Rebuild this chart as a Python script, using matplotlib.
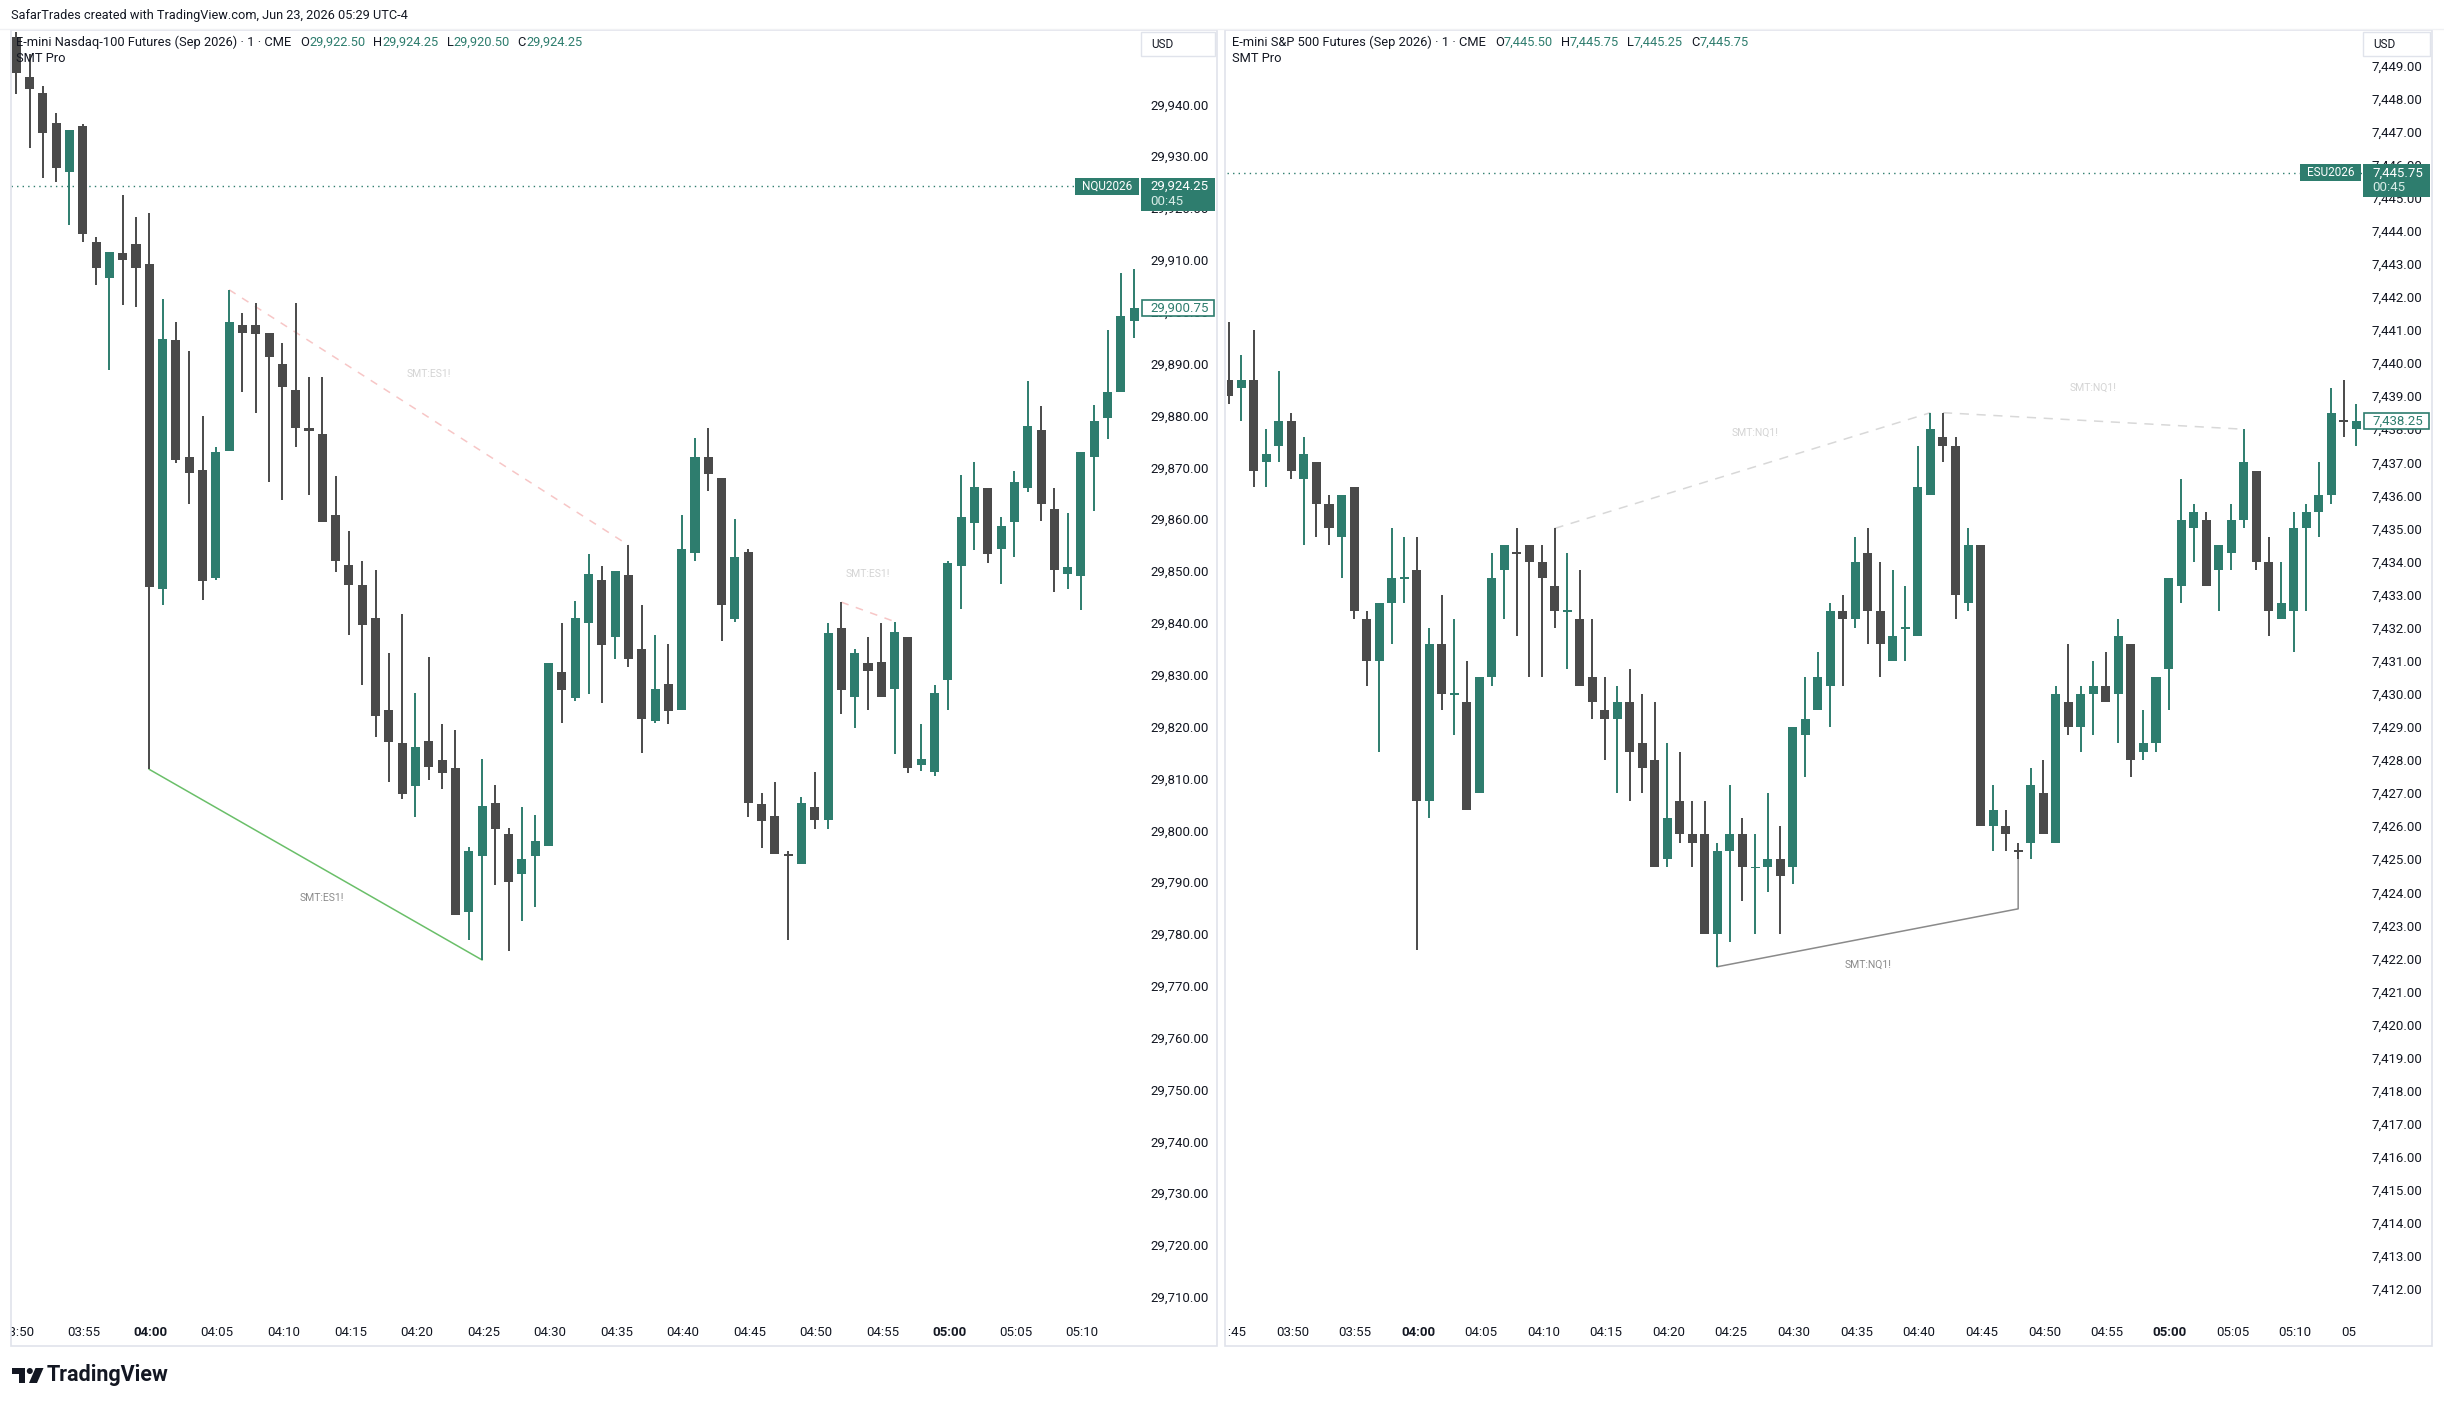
import matplotlib
matplotlib.use("Agg")
import matplotlib.pyplot as plt
import numpy as np
from matplotlib.patches import Rectangle, Polygon, Circle

plt.rcParams["font.family"] = ["Roboto", "DejaVu Sans"]

W, H = 2444, 1406
UP = "#2e7d6e"
DOWN = "#4a4a4a"
INK = "#131722"
FRAME = "#e0e3eb"

# ---- NQ (left pane), minutes from 04:00 ----
nq_start = -10
nq_open = [29953.0, 29945.25, 29942.25, 29936.5, 29927.0, 29935.75, 29913.5, 29906.5, 29911.25, 29913.0,
           29909.25, 29846.5, 29894.5, 29872.0, 29869.5, 29848.75, 29873.25, 29897.5, 29897.5, 29896.0,
           29890.0, 29885.0, 29877.5, 29876.5, 29860.75, 29851.25, 29847.25, 29841.0, 29823.25, 29816.75,
           29808.5, 29817.25, 29813.5, 29812.0, 29784.25, 29795.0, 29805.25, 29799.25, 29791.5, 29795.0,
           29797.0, 29830.5, 29825.5, 29840.0, 29848.25, 29837.25, 29849.25, 29835.0, 29821.0, 29828.25,
           29823.25, 29853.5, 29872.0, 29868.0, 29840.75, 29853.75, 29805.0, 29802.75, 29795.5, 29793.5,
           29804.5, 29802.0, 29839.0, 29825.75, 29832.25, 29832.5, 29827.25, 29837.25, 29812.5, 29811.25,
           29829.0, 29851.0, 29859.25, 29866.0, 29854.25, 29859.5, 29866.0, 29877.25, 29862.0, 29849.5,
           29849.0, 29872.0, 29879.5, 29884.5, 29898.25]
nq_high = [29954.0, 29949.75, 29943.5, 29938.25, 29935.0, 29936.25, 29914.5, 29911.5, 29922.5, 29918.25,
           29919.0, 29902.5, 29898.0, 29892.5, 29880.0, 29874.0, 29904.25, 29899.75, 29901.75, 29896.0,
           29894.0, 29901.75, 29887.5, 29887.5, 29868.25, 29857.75, 29852.0, 29850.25, 29834.25, 29841.75,
           29826.5, 29833.5, 29820.5, 29819.25, 29796.75, 29813.75, 29808.75, 29800.5, 29804.5, 29803.0,
           29832.25, 29840.0, 29844.25, 29853.25, 29851.0, 29850.0, 29855.0, 29843.5, 29837.75, 29836.0,
           29860.75, 29875.75, 29877.5, 29868.0, 29860.0, 29854.25, 29807.25, 29809.25, 29796.0, 29806.5,
           29811.25, 29840.0, 29844.0, 29835.0, 29837.25, 29840.0, 29840.25, 29837.25, 29820.5, 29828.0,
           29852.0, 29868.5, 29871.0, 29866.0, 29860.5, 29869.25, 29886.75, 29881.75, 29866.0, 29861.25,
           29873.0, 29882.0, 29896.5, 29907.5, 29908.25]
nq_low = [29942.0, 29931.5, 29925.75, 29925.0, 29916.75, 29913.5, 29905.25, 29888.75, 29901.25, 29901.0,
          29811.75, 29843.5, 29870.75, 29863.0, 29844.5, 29848.25, 29873.25, 29884.5, 29880.5, 29867.25,
          29863.75, 29874.0, 29864.75, 29859.5, 29849.75, 29837.75, 29828.0, 29818.0, 29809.25, 29806.0,
          29802.5, 29809.75, 29808.0, 29783.75, 29778.75, 29775.0, 29789.5, 29776.75, 29782.5, 29785.25,
          29797.0, 29820.75, 29825.0, 29826.25, 29824.5, 29833.0, 29831.5, 29815.0, 29820.75, 29820.5,
          29823.25, 29852.0, 29865.5, 29836.5, 29840.25, 29802.5, 29796.5, 29795.5, 29778.75, 29793.5,
          29800.25, 29800.25, 29822.5, 29819.75, 29823.25, 29825.75, 29814.75, 29811.0, 29811.5, 29810.5,
          29823.25, 29842.75, 29854.0, 29851.5, 29847.5, 29852.75, 29865.25, 29859.75, 29846.0, 29846.5,
          29842.5, 29861.5, 29875.5, 29884.5, 29895.0]
nq_close = [29946.0, 29943.0, 29934.5, 29927.75, 29935.0, 29915.0, 29908.5, 29911.5, 29910.0, 29908.5,
            29847.0, 29894.75, 29871.5, 29869.0, 29848.0, 29873.0, 29898.0, 29896.0, 29895.75, 29891.25,
            29885.5, 29877.5, 29877.0, 29859.5, 29852.0, 29847.25, 29839.5, 29822.0, 29817.0, 29807.0,
            29816.0, 29812.25, 29811.0, 29783.75, 29796.0, 29804.75, 29800.25, 29790.0, 29794.5, 29798.0,
            29832.25, 29827.0, 29841.0, 29849.5, 29835.75, 29850.0, 29833.0, 29821.5, 29827.25, 29823.0,
            29854.25, 29872.0, 29868.75, 29843.5, 29852.75, 29805.25, 29801.75, 29795.5, 29795.0, 29805.25,
            29802.0, 29838.0, 29827.0, 29834.25, 29830.75, 29825.75, 29838.25, 29812.0, 29813.75, 29826.5,
            29851.5, 29860.5, 29866.25, 29853.25, 29858.75, 29867.25, 29878.0, 29863.0, 29850.25, 29850.75,
            29873.0, 29879.0, 29884.5, 29899.25, 29900.75]

# ---- ES (right pane), minutes from 04:00 ----
es_start = -15
es_open = [7439.5, 7439.25, 7439.5, 7437.0, 7437.5, 7438.25, 7436.5, 7437.0, 7435.75, 7434.75,
           7436.25, 7432.25, 7431.0, 7432.75, 7433.5, 7433.75, 7426.75, 7431.5, 7430.0, 7429.75,
           7427.0, 7430.5, 7433.75, 7434.25, 7434.5, 7434.0, 7433.25, 7432.5, 7432.25, 7430.5,
           7429.5, 7429.25, 7429.75, 7428.5, 7428.0, 7425.0, 7426.75, 7425.75, 7425.75, 7422.75,
           7425.25, 7425.75, 7424.75, 7424.75, 7425.0, 7424.75, 7428.75, 7429.5, 7430.25, 7432.5,
           7432.25, 7434.25, 7432.5, 7431.0, 7432.0, 7431.75, 7436.0, 7437.75, 7437.5, 7432.75,
           7434.5, 7426.0, 7426.0, 7425.25, 7425.5, 7427.0, 7425.5, 7429.75, 7429.0, 7430.0,
           7430.25, 7430.0, 7431.5, 7428.25, 7428.5, 7430.75, 7433.25, 7435.0, 7435.25, 7433.75,
           7434.25, 7435.25, 7436.75, 7434.0, 7432.25, 7432.5, 7435.0, 7435.5, 7436.0, 7438.25,
           7438.0]
es_high = [7441.25, 7440.25, 7441.0, 7438.0, 7439.75, 7438.5, 7437.75, 7437.0, 7436.0, 7436.0,
           7436.25, 7432.5, 7432.75, 7435.0, 7434.75, 7434.75, 7432.0, 7433.0, 7432.25, 7431.0,
           7430.5, 7434.25, 7434.5, 7435.0, 7434.5, 7434.5, 7435.0, 7434.25, 7433.75, 7432.25,
           7430.5, 7430.25, 7430.75, 7430.0, 7429.75, 7428.5, 7428.25, 7426.75, 7426.75, 7425.5,
           7427.25, 7426.25, 7425.75, 7427.0, 7426.0, 7429.0, 7430.5, 7431.25, 7432.75, 7433.0,
           7434.75, 7435.0, 7434.0, 7433.75, 7433.25, 7437.5, 7438.5, 7438.5, 7437.75, 7435.0,
           7434.5, 7427.25, 7426.5, 7425.5, 7427.75, 7428.0, 7430.25, 7431.5, 7430.25, 7431.0,
           7431.25, 7432.25, 7431.5, 7429.5, 7430.5, 7433.5, 7436.5, 7435.75, 7435.5, 7434.5,
           7435.75, 7438.0, 7436.75, 7434.75, 7434.0, 7435.5, 7435.75, 7437.0, 7439.25, 7439.5,
           7438.75]
es_low = [7438.75, 7438.25, 7436.25, 7436.25, 7437.0, 7436.5, 7434.5, 7434.75, 7434.5, 7433.5,
          7432.25, 7430.25, 7428.25, 7431.5, 7432.75, 7422.25, 7426.25, 7429.5, 7428.75, 7426.5,
          7427.0, 7430.25, 7432.25, 7431.75, 7430.5, 7430.5, 7432.0, 7430.75, 7430.25, 7429.25,
          7428.0, 7427.0, 7426.75, 7427.0, 7424.75, 7424.75, 7425.5, 7424.75, 7422.75, 7421.75,
          7422.5, 7423.75, 7422.75, 7424.0, 7422.75, 7424.25, 7427.5, 7429.5, 7429.0, 7430.25,
          7432.0, 7431.5, 7430.5, 7431.0, 7431.0, 7431.75, 7436.0, 7437.0, 7432.25, 7432.5,
          7426.0, 7425.25, 7425.25, 7425.0, 7425.0, 7425.75, 7425.5, 7428.75, 7428.25, 7428.75,
          7429.75, 7428.5, 7427.5, 7428.0, 7428.25, 7429.5, 7432.75, 7434.0, 7433.25, 7432.5,
          7433.75, 7435.0, 7433.75, 7431.75, 7432.25, 7431.25, 7432.5, 7434.75, 7435.75, 7437.75,
          7437.5]
es_close = [7439.0, 7439.5, 7436.75, 7437.25, 7438.25, 7436.75, 7437.25, 7435.75, 7435.0, 7436.0,
            7432.5, 7431.0, 7432.75, 7433.5, 7433.5, 7426.75, 7431.5, 7430.0, 7430.0, 7426.5,
            7430.5, 7433.5, 7434.5, 7434.25, 7434.0, 7433.5, 7432.5, 7432.5, 7430.25, 7429.75,
            7429.25, 7429.75, 7428.25, 7427.75, 7424.75, 7426.25, 7425.75, 7425.5, 7422.75, 7425.25,
            7425.75, 7424.75, 7424.75, 7425.0, 7424.5, 7429.0, 7429.25, 7430.5, 7432.5, 7432.25,
            7434.0, 7432.5, 7431.5, 7431.75, 7432.0, 7436.25, 7438.0, 7437.5, 7433.0, 7434.5,
            7426.0, 7426.5, 7425.75, 7425.25, 7427.25, 7425.75, 7430.0, 7429.0, 7430.0, 7430.25,
            7429.75, 7431.75, 7428.0, 7428.5, 7430.5, 7433.5, 7435.25, 7435.5, 7433.25, 7434.5,
            7435.25, 7437.0, 7434.0, 7432.5, 7432.75, 7435.0, 7435.5, 7436.0, 7438.5, 7438.25,
            7438.25]

# ---- SMT Pro drawings (minute, price) ----
nq_bear1_t, nq_bear1_p = [6, 36], [29904.25, 29855.0]
nq_bear2_t, nq_bear2_p = [52, 56], [29844.0, 29840.25]
nq_bull_t, nq_bull_p = [0, 25], [29811.75, 29775.0]
nq_labels = [("SMT:ES1!", 21, 29888.0, "faint"), ("SMT:ES1!", 54, 29849.5, "faint"),
             ("SMT:ES1!", 13, 29787.0, "strong")]
es_bear1_t, es_bear1_p = [11, 41], [7435.0, 7438.5]
es_bear2_t, es_bear2_p = [42, 66], [7438.5, 7438.0]
es_bull_t, es_bull_p = [24, 48, 48], [7421.75, 7423.5, 7425.25]
es_labels = [("SMT:NQ1!", 27, 7437.9, "faint"), ("SMT:NQ1!", 54, 7439.25, "faint"),
             ("SMT:NQ1!", 36, 7421.8, "strong")]

nq_ticks = list(range(-10, 71, 5))
nq_tick_labels = ["03:50", "03:55", "04:00", "04:05", "04:10", "04:15", "04:20", "04:25", "04:30",
                  "04:35", "04:40", "04:45", "04:50", "04:55", "05:00", "05:05", "05:10"]
es_ticks = list(range(-15, 76, 5))
es_tick_labels = ["03:45", "03:50", "03:55", "04:00", "04:05", "04:10", "04:15", "04:20", "04:25",
                  "04:30", "04:35", "04:40", "04:45", "04:50", "04:55", "05:00", "05:05", "05:10", "05:15"]
bold_labels = ["04:00", "05:00"]

nq_last, nq_mark = 29924.25, 29900.75
es_last, es_mark = 7445.75, 7438.25


def rect(x0, y0, x1, y1):
    return [x0 / W, 1 - y1 / H, (x1 - x0) / W, (y1 - y0) / H]


def candles(ax, start, o, h, l, c, width, min_h):
    o, h, l, c = map(np.array, (o, h, l, c))
    t = start + np.arange(len(o))
    prev = np.concatenate([[o[0]], c[:-1]])
    up = (c > o) | ((c == o) & (c >= prev))
    cols = np.where(up, UP, DOWN)
    ax.vlines(t, l, h, colors=cols, lw=1.4, zorder=2)
    body = np.abs(c - o)
    hgt = np.maximum(body, min_h)
    bot = np.minimum(o, c) - (hgt - body) / 2
    ax.bar(t, hgt, bottom=bot, width=width, color=cols, lw=0, zorder=3)


fig = plt.figure(figsize=(W / 100, H / 100), dpi=100)
fig.patch.set_facecolor("white")

ax_nq = fig.add_axes(rect(11, 30, 1139, 1315))
ax_es = fig.add_axes(rect(1227, 30, 2362, 1315))
ax_nq.set_xlim(-10.39, 74.36)
ax_nq.set_ylim(29706.52, 29954.35)
ax_es.set_xlim(-15.14, 75.44)
ax_es.set_ylim(7411.22, 7450.07)

candles(ax_nq, nq_start, nq_open, nq_high, nq_low, nq_close, 0.68, 0.3)
candles(ax_es, es_start, es_open, es_high, es_low, es_close, 0.72, 0.05)

# SMT lines
ax_nq.plot(nq_bear1_t, nq_bear1_p, color="#f7c6c6", lw=1.1, ls=(0, (5, 5)), zorder=1)
ax_nq.plot(nq_bear2_t, nq_bear2_p, color="#f7c6c6", lw=1.1, ls=(0, (5, 5)), zorder=1)
ax_nq.plot(nq_bull_t, nq_bull_p, color="#6abf69", lw=1.1, zorder=1)
ax_es.plot(es_bear1_t, es_bear1_p, color="#d8d8d8", lw=1.1, ls=(0, (6, 5)), zorder=1)
ax_es.plot(es_bear2_t, es_bear2_p, color="#d8d8d8", lw=1.1, ls=(0, (6, 5)), zorder=1)
ax_es.plot(es_bull_t, es_bull_p, color="#8a8a8a", lw=1.1, zorder=1)
for ax, labels in ((ax_nq, nq_labels), (ax_es, es_labels)):
    for txt, t, p, kind in labels:
        ax.text(t, p, txt, ha="center", va="center", fontsize=7.5,
                color="#d4d4d4" if kind == "faint" else "#8a8a8a", zorder=1)

# current price dotted lines
ax_nq.axhline(nq_last, color=UP, lw=1, ls=(0, (1, 3)), zorder=1)
ax_es.axhline(es_last, color=UP, lw=1, ls=(0, (1, 3)), zorder=1)

for ax, ticks, pad in ((ax_nq, np.arange(29710, 29941, 10), 7.9), (ax_es, np.arange(7412, 7450, 1), 6.5)):
    ax.set_xticks([])
    ax.yaxis.tick_right()
    ax.set_yticks(ticks)
    ax.set_yticklabels([f"{v:,.2f}" for v in ticks])
    ax.tick_params(axis="y", length=0, pad=pad, labelsize=9.5, labelcolor=INK)
    for s in ax.spines.values():
        s.set_visible(False)
    ax.patch.set_alpha(0)

# time axis strips (clipped at pane edges)
for x0, x1, ax, ticks, labels in ((11, 1139, ax_nq, nq_ticks, nq_tick_labels),
                                  (1227, 2356, ax_es, es_ticks, es_tick_labels)):
    strip = fig.add_axes(rect(x0, 1318, x1, 1346))
    lo, hi = ax.get_xlim()
    strip.set_xlim(lo, lo + (hi - lo) * (x1 - x0) / (ax.get_position().width * W))
    strip.set_ylim(0, 1)
    strip.axis("off")
    for t, lab in zip(ticks, labels):
        strip.text(t + 0.1, 0.5, lab, ha="center", va="center", fontsize=9.5, color=INK,
                   fontweight="bold" if lab in bold_labels else "normal", clip_on=True)

# overlay in pixel coordinates
ov = fig.add_axes([0, 0, 1, 1])
ov.set_xlim(0, W)
ov.set_ylim(H, 0)
ov.axis("off")
ov.patch.set_alpha(0)
ov.set_zorder(10)


def ypix(ax, p):
    return H - ax.transData.transform((0, p))[1]


# pane frames
ov.add_patch(Rectangle((10.5, 30), 1206, 1316, fill=False, ec=FRAME, lw=1.2))
ov.add_patch(Rectangle((1225, 30), 1207, 1316, fill=False, ec=FRAME, lw=1.2))
ov.plot([0, W], [28.5, 28.5], color="#f0f1f4", lw=1)

# USD boxes
for x0, x1 in ((1141, 1215), (2363, 2430)):
    ov.add_patch(Rectangle((x0, 32), x1 - x0, 24, fc="white", ec=FRAME, lw=1))
    ov.text(x0 + 10, 44, "USD", fontsize=8.5, color=INK, va="center", ha="left")

# price label boxes
for ax, sym, last, mark, sx0, px0, px1 in ((ax_nq, "NQU2026", nq_last, nq_mark, 1075, 1141, 1215),
                                           (ax_es, "ESU2026", es_last, es_mark, 2300, 2363, 2430)):
    yc = ypix(ax, last)
    ov.add_patch(Rectangle((sx0, yc - 8.5), px0 - sx0 - 2, 17, fc=UP, ec="none"))
    ov.text((sx0 + px0 - 2) / 2, yc, sym, color="white", fontsize=8.5, ha="center", va="center")
    ov.add_patch(Rectangle((px0, yc - 8.5), px1 - px0, 33, fc=UP, ec="none"))
    ov.text(px0 + 9, yc, f"{last:,.2f}", color="white", fontsize=9.5, ha="left", va="center")
    ov.text(px0 + 9, yc + 15, "00:45", color="#d8ece7", fontsize=9.5, ha="left", va="center")
    ym = ypix(ax, mark)
    ov.add_patch(Rectangle((px0 + 1, ym - 8), px1 - px0 - 2, 16, fc="white", ec=UP, lw=1.2))
    ov.text(px0 + 9, ym, f"{mark:,.2f}", color=UP, fontsize=9.5, ha="left", va="center")

# headers
ov.text(11, 15, "SafarTrades created with TradingView.com, Jun 23, 2026 05:29 UTC-4",
        fontsize=9.2, color=INK, ha="left", va="center")
renderer = fig.canvas.get_renderer()


def parts(x, y, items):
    for txt, col, gap in items:
        t = ov.text(x, y, txt, fontsize=9.3, color=col, ha="left", va="center")
        bb = t.get_window_extent(renderer)
        x += bb.width + gap


parts(16, 42, [("E-mini Nasdaq-100 Futures (Sep 2026) · 1 · CME", INK, 9), ("O", INK, 0),
               ("29,922.50", UP, 8), ("H", INK, 0), ("29,924.25", UP, 8), ("L", INK, 0),
               ("29,920.50", UP, 8), ("C", INK, 0), ("29,924.25", UP, 0)])
ov.text(16, 59, "SMT Pro", fontsize=9.3, color=INK, ha="left", va="center")
parts(1232, 42, [("E-mini S&P 500 Futures (Sep 2026) · 1 · CME", INK, 9), ("O", INK, 0),
                 ("7,445.50", UP, 8), ("H", INK, 0), ("7,445.75", UP, 8), ("L", INK, 0),
                 ("7,445.25", UP, 8), ("C", INK, 0), ("7,445.75", UP, 0)])
ov.text(1232, 59, "SMT Pro", fontsize=9.3, color=INK, ha="left", va="center")

# TradingView logo
ov.add_patch(Polygon([(12, 1368), (25, 1368), (25, 1383), (19, 1383), (19, 1373.5), (12, 1373.5)],
                     fc="#131722", ec="none"))
ov.add_patch(Circle((29.8, 1371), 3.0, fc="#131722", ec="none"))
ov.add_patch(Polygon([(35.5, 1368), (43.5, 1368), (37, 1383), (29, 1383)], fc="#131722", ec="none"))
ov.text(47, 1375, "TradingView", fontsize=15.5, fontweight="bold", color="#131722",
        ha="left", va="center")

fig.savefig("out.png", dpi=100, facecolor="white")
